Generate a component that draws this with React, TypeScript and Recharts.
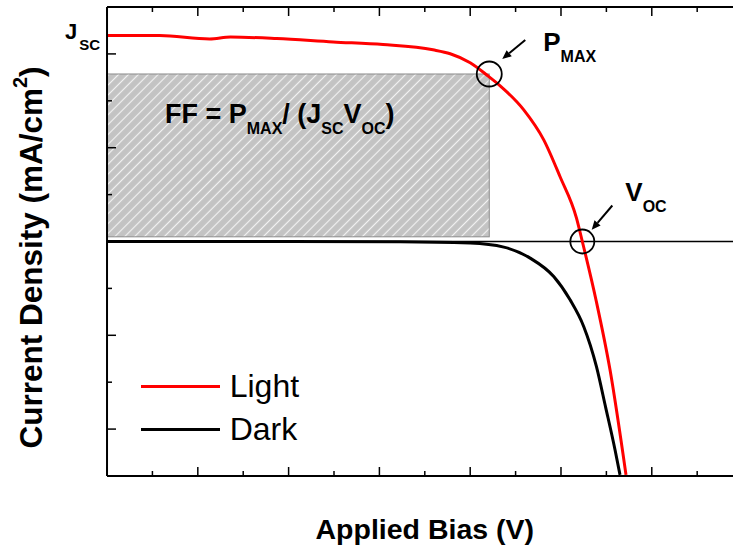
import { Legend, Line, LineChart, ReferenceArea, ReferenceDot, ReferenceLine, XAxis, YAxis } from "recharts";

// J-V sweep under illumination (V, mA/cm2)
const lightBias = [0, 0.058, 0.113, 0.136, 0.187, 0.249, 0.304, 0.359, 0.378, 0.4, 0.419, 0.433, 0.459, 0.481, 0.499, 0.517, 0.5235, 0.539, 0.554, 0.5716];
const lightCurrent = [10.98, 10.98, 10.8, 10.9, 10.82, 10.64, 10.5, 10.22, 10.01, 9.53, 8.85, 8.3, 7.02, 5.42, 3.45, 1.26, 0, -3.21, -6.84, -12.44];

// J-V sweep in the dark
const darkBias = [0, 0.2, 0.323, 0.4, 0.437, 0.466, 0.492, 0.51, 0.525, 0.539, 0.549, 0.5595, 0.565];
const darkCurrent = [0, 0, -0.01, -0.085, -0.3, -0.885, -1.87, -3.11, -4.53, -6.66, -8.8, -11.1, -12.44];

const biasMajorTicks = [0, 0.1, 0.2, 0.3, 0.4, 0.5, 0.6, 0.7];
const biasMinorTicks = [0.05, 0.15, 0.25, 0.35, 0.45, 0.55, 0.65];
const currentMajorTicks = [-10, -5, 0, 5, 10];
const currentMinorTicks = [-7.5, -2.5, 2.5, 7.5];

// operating points
const maxPowerBias = 0.421;
const maxPowerCurrent = 8.93;
const openCircuitBias = 0.5235;
const fillBoxFloor = 0.25;

const seriesOrder = ["Light", "Dark"];

const lightData = lightBias.map((v, i) => ({ v, j: lightCurrent[i] }));
const darkData = darkBias.map((v, i) => ({ v, j: darkCurrent[i] }));

const FONT = "'Liberation Sans', Arial, Helvetica, sans-serif";

// axes take no room: the frame sits on the plot edges
const THIN = 0.01;

// tick marks only, no tick labels
const NoTickLabel = () => <g />;

const Arrow = ({ x1, y1, x2, y2 }: { x1: number; y1: number; x2: number; y2: number }) => {
    const len = Math.hypot(x2 - x1, y2 - y1);
    const ux = (x2 - x1) / len;
    const uy = (y2 - y1) / len;
    const head = 9;
    const half = 4;
    const bx = x2 - ux * head;
    const by = y2 - uy * head;
    return (
        <g>
            <line x1={x1} y1={y1} x2={bx} y2={by} stroke="#000" strokeWidth={2} />
            <polygon
                points={`${x2},${y2} ${bx - uy * half},${by + ux * half} ${bx + uy * half},${by - ux * half}`}
                fill="#000"
            />
        </g>
    );
};

const biasAxis = (id: string, orientation: "top" | "bottom", ticks: number[], size: number, line: boolean, label?: any) => (
    <XAxis
        key={id}
        xAxisId={id}
        orientation={orientation}
        type="number"
        dataKey="v"
        domain={[0, 0.7]}
        ticks={ticks}
        interval={0}
        allowDataOverflow
        tick={NoTickLabel}
        tickSize={-size}
        tickLine={{ stroke: "#000", strokeWidth: 1.5 }}
        axisLine={line ? { stroke: "#000", strokeWidth: 2 } : false}
        height={THIN}
        label={label}
    />
);

const currentAxis = (id: string, orientation: "left" | "right", ticks: number[], size: number, line: boolean, label?: any) => (
    <YAxis
        key={id}
        yAxisId={id}
        orientation={orientation}
        type="number"
        domain={[-12.5, 12.5]}
        ticks={ticks}
        interval={0}
        allowDataOverflow
        tick={NoTickLabel}
        tickSize={-size}
        tickLine={{ stroke: "#000", strokeWidth: 1.5 }}
        axisLine={line ? { stroke: "#000", strokeWidth: 2 } : false}
        width={THIN}
        label={label}
    />
);

const xTitle = ({ viewBox }: any) => (
    <text
        x={viewBox.x + viewBox.width / 2}
        y={viewBox.y + 63}
        textAnchor="middle"
        fontSize={28.5}
        fontWeight="bold"
        fontFamily={FONT}
    >
        Applied Bias (V)
    </text>
);

const yTitle = ({ viewBox }: any) => {
    const x = viewBox.x - 65;
    const y = viewBox.y + viewBox.height / 2 + 16;
    return (
        <text x={x} y={y} transform={`rotate(-90 ${x} ${y})`} textAnchor="middle" fontSize={31.5} fontWeight="bold" fontFamily={FONT}>
            Current Density (mA/cm
            <tspan dy={-15} fontSize={20}>2</tspan>
            <tspan dy={15}>)</tspan>
        </text>
    );
};

const LegendContent = ({ payload }: any) => {
    const items = [...(payload ?? [])].sort((a, b) => seriesOrder.indexOf(a.value) - seriesOrder.indexOf(b.value));
    return (
        <div style={{ display: "flex", flexDirection: "column", fontFamily: FONT }}>
            {items.map((entry: any) => (
                <div key={entry.value} style={{ display: "flex", alignItems: "center", height: 43.3 }}>
                    <span style={{ display: "inline-block", width: 79, height: 3, background: entry.color, marginRight: 10 }} />
                    <span style={{ fontSize: 32, lineHeight: 1, color: "#000" }}>{entry.value}</span>
                </div>
            ))}
        </div>
    );
};

export default function App() {
    return (
        <div
            style={{
                position: "absolute",
                left: 0,
                top: 0,
                width: 733,
                height: 552,
                overflow: "hidden",
                background: "#fff",
                fontFamily: FONT,
            }}
        >
            <LineChart width={760} height={552} margin={{ top: 7, right: 17.4, bottom: 76, left: 107 }}>
                {biasAxis("x", "bottom", biasMajorTicks, 9, true, { content: xTitle })}
                {biasAxis("xMinor", "bottom", biasMinorTicks, 5, false)}
                {biasAxis("xTop", "top", biasMajorTicks, 9, true)}
                {biasAxis("xTopMinor", "top", biasMinorTicks, 5, false)}
                {currentAxis("y", "left", currentMajorTicks, 9, true, { content: yTitle })}
                {currentAxis("yMinor", "left", currentMinorTicks, 5, false)}
                {currentAxis("yRight", "right", currentMajorTicks, 9, true)}
                {currentAxis("yRightMinor", "right", currentMinorTicks, 5, false)}

                <ReferenceArea
                    xAxisId="x"
                    yAxisId="y"
                    x1={0}
                    x2={maxPowerBias}
                    y1={fillBoxFloor}
                    y2={maxPowerCurrent}
                    ifOverflow="visible"
                    shape={(p: any) => (
                        <g>
                            <defs>
                                <pattern id="ff-hatch" patternUnits="userSpaceOnUse" width={7} height={7} patternTransform="rotate(45)">
                                    <rect width={7} height={7} fill="#c3c3c3" />
                                    <line x1={3.5} y1={0} x2={3.5} y2={7} stroke="#f2f2f2" strokeWidth={1.2} />
                                </pattern>
                            </defs>
                            <rect x={p.x} y={p.y} width={p.width} height={p.height} fill="url(#ff-hatch)" stroke="#8c8c8c" strokeWidth={1} />
                            <text x={p.x + 58} y={p.y + 49} fontSize={27} fontWeight="bold" fontFamily={FONT}>
                                FF = P
                                <tspan dy={11} fontSize={16}>MAX</tspan>
                                <tspan dy={-11}>/ (J</tspan>
                                <tspan dy={11} fontSize={16}>SC</tspan>
                                <tspan dy={-11}>V</tspan>
                                <tspan dy={11} fontSize={16}>OC</tspan>
                                <tspan dy={-11}>)</tspan>
                            </text>
                        </g>
                    )}
                />

                <ReferenceLine xAxisId="x" yAxisId="y" y={0} stroke="#000" strokeWidth={1.3} />

                <Line
                    xAxisId="x"
                    yAxisId="y"
                    data={lightData}
                    dataKey="j"
                    name="Light"
                    type="monotone"
                    stroke="#ff0000"
                    strokeWidth={3}
                    dot={false}
                    activeDot={false}
                    isAnimationActive={false}
                />
                <Line
                    xAxisId="x"
                    yAxisId="y"
                    data={darkData}
                    dataKey="j"
                    name="Dark"
                    type="monotone"
                    stroke="#000000"
                    strokeWidth={3}
                    dot={false}
                    activeDot={false}
                    isAnimationActive={false}
                />

                <ReferenceDot
                    xAxisId="x"
                    yAxisId="y"
                    x={0}
                    y={lightCurrent[0]}
                    r={0}
                    ifOverflow="visible"
                    shape={({ cx, cy }: any) => (
                        <text x={cx - 42} y={cy + 3.6} fontSize={22} fontWeight="bold" fontFamily={FONT}>
                            J
                            <tspan dx={2} dy={11} fontSize={15}>SC</tspan>
                        </text>
                    )}
                />
                <ReferenceDot
                    xAxisId="x"
                    yAxisId="y"
                    x={maxPowerBias}
                    y={maxPowerCurrent}
                    r={12.5}
                    ifOverflow="visible"
                    shape={({ cx, cy }: any) => (
                        <g>
                            <circle cx={cx} cy={cy} r={12.5} fill="none" stroke="#000" strokeWidth={1.8} />
                            <Arrow x1={cx + 36} y1={cy - 34} x2={cx + 13} y2={cy - 15} />
                            <text x={cx + 54} y={cy - 23} fontSize={26} fontWeight="bold" fontFamily={FONT}>
                                P
                                <tspan dy={11} fontSize={16}>MAX</tspan>
                            </text>
                        </g>
                    )}
                />
                <ReferenceDot
                    xAxisId="x"
                    yAxisId="y"
                    x={openCircuitBias}
                    y={0}
                    r={12.5}
                    ifOverflow="visible"
                    shape={({ cx, cy }: any) => (
                        <g>
                            <circle cx={cx} cy={cy} r={12} fill="none" stroke="#000" strokeWidth={1.8} />
                            <Arrow x1={cx + 30} y1={cy - 36} x2={cx + 9.4} y2={cy - 11.7} />
                            <text x={cx + 43} y={cy - 41} fontSize={26} fontWeight="bold" fontFamily={FONT}>
                                V
                                <tspan dy={11} fontSize={16}>OC</tspan>
                            </text>
                        </g>
                    )}
                />

                <Legend
                    layout="horizontal"
                    verticalAlign="middle"
                    align="center"
                    content={LegendContent}
                    wrapperStyle={{ left: 140.7, top: 364.4, width: "auto" }}
                />
            </LineChart>
        </div>
    );
}
